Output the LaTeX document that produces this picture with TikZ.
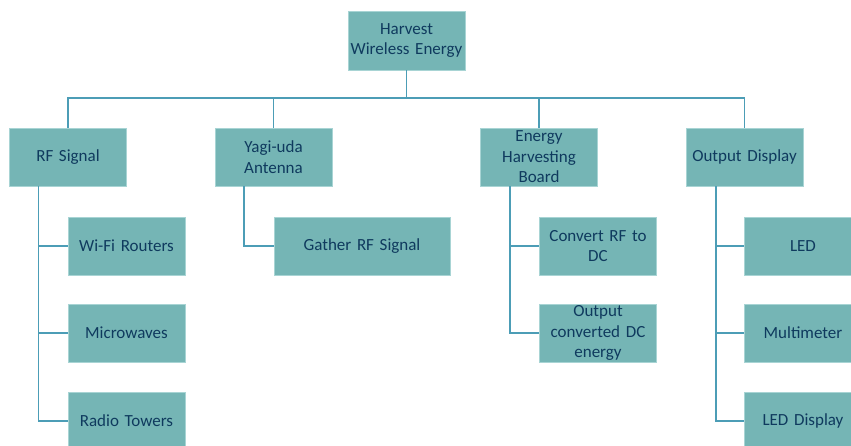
\documentclass[tikz,border=0pt]{standalone}
\usepackage{fontspec}
\setmainfont[WordSpace=0.75]{Carlito}
\definecolor{boxfill}{HTML}{75B5B5}
\definecolor{boxline}{HTML}{A8D4D4}
\definecolor{txt}{HTML}{0F3A5E}
\definecolor{conn}{HTML}{4C9DB6}
\begin{document}
\begin{tikzpicture}[x=1pt,y=-1pt,
  box/.style={rectangle,fill=boxfill,draw=boxline,line width=0.8pt,
    minimum width=117pt,minimum height=58pt,inner sep=1pt,align=center,
    text=txt,font=\fontsize{17}{20.5}\selectfont,text width=112pt},
  wbox/.style={box,minimum width=176pt,text width=168pt},
  link/.style={draw=conn,line width=1.8pt}]
\useasboundingbox (0,0) rectangle (851,446);
\clip (0,0) rectangle (851,446);
\fill[white] (0,0) rectangle (851,446);
% nodes
\node[box,minimum height=59pt] (root) at (406.5,40.5) {Harvest\\Wireless Energy};
\node[box] (rf) at (68,157) {RF Signal};
\node[box] (yagi) at (273.5,157) {Yagi-uda\\Antenna};
\node[box] (ehb) at (539,157) {Energy\\Harvesting\\Board};
\node[box] (out) at (744.5,157) {Output Display};
\node[box] (wifi) at (126.5,246) {Wi-Fi Routers};
\node[box] (micro) at (126.5,333) {Microwaves};
\node[box] (radio) at (126.5,421) {Radio Towers};
\node[wbox] (gather) at (362,246) {Gather RF Signal};
\node[box] (conv) at (598,246) {Convert RF to\\DC};
\node[box] (outdc) at (598,333) {Output\\converted DC\\energy};
\node[box] (led) at (803,246) {LED};
\node[box] (multi) at (803,333) {Multimeter};
\node[box] (ledd) at (803,421) {LED Display};
% connectors
\coordinate (bus) at (406.5,98);
\draw[link] (root.south) -- (bus);
\draw[link] (bus) -| (rf.north);
\draw[link] (bus) -| (yagi.north);
\draw[link] (bus) -| (ehb.north);
\draw[link] (bus) -| (out.north);
\draw[link] ([xshift=-29.5pt]rf.south) |- (wifi.west);
\draw[link] ([xshift=-29.5pt]rf.south) |- (micro.west);
\draw[link] ([xshift=-29.5pt]rf.south) |- (radio.west);
\draw[link] ([xshift=-29.5pt]yagi.south) |- (gather.west);
\draw[link] ([xshift=-29pt]ehb.south) |- (conv.west);
\draw[link] ([xshift=-29pt]ehb.south) |- (outdc.west);
\draw[link] ([xshift=-28.5pt]out.south) |- (led.west);
\draw[link] ([xshift=-28.5pt]out.south) |- (multi.west);
\draw[link] ([xshift=-28.5pt]out.south) |- (ledd.west);
\end{tikzpicture}
\end{document}
